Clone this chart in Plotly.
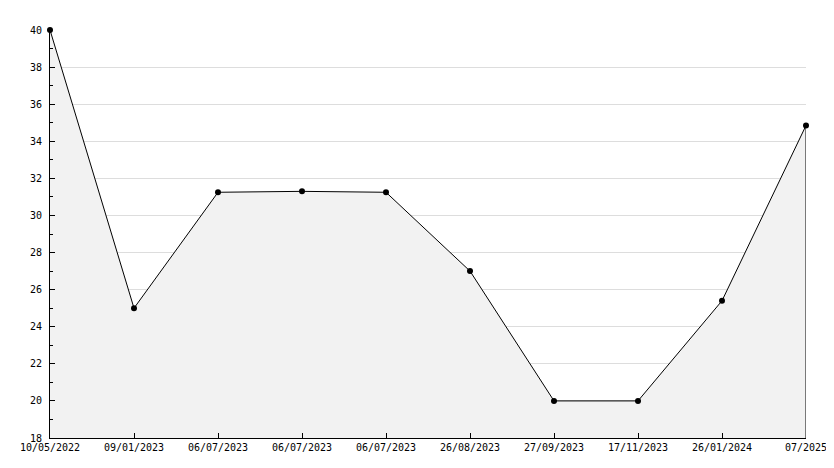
import plotly.graph_objects as go

dates = ["10/05/2022", "09/01/2023", "06/07/2023", "06/07/2023", "06/07/2023",
         "26/08/2023", "27/09/2023", "17/11/2023", "26/01/2024", "07/2025"]
values = [40, 25, 31.25, 31.3, 31.25, 27, 20, 20, 25.4, 34.85]
y_min, y_max = 18, 40

idx = list(range(len(dates)))
font = dict(family="DejaVu Sans Mono", size=10, color="black")

fig = go.Figure()
fig.add_trace(go.Scatter(
    x=idx, y=values, mode="lines+markers", fill="tozeroy",
    fillcolor="#f2f2f2", line=dict(color="black", width=1),
    marker=dict(color="black", size=6, symbol="circle"),
    hoverinfo="skip", showlegend=False, cliponaxis=False,
))
# right edge of the filled area
fig.add_trace(go.Scatter(
    x=[idx[-1], idx[-1]], y=[y_min, values[-1]], mode="lines",
    line=dict(color="black", width=1), hoverinfo="skip", showlegend=False,
))

# page body has an 8px margin, so the figure is offset by (8, 8)
fig.update_layout(
    width=822, height=452,
    margin=dict(l=42, r=24, t=22, b=22, autoexpand=False),
    paper_bgcolor="white", plot_bgcolor="white",
    font=font,
    xaxis=dict(
        range=[0, len(dates) - 1], tickvals=idx, ticktext=dates,
        showgrid=False, zeroline=False, showline=True, linecolor="black",
        linewidth=1, ticks="inside", ticklen=5, tickcolor="black",
        tickfont=font, tickangle=0, automargin=False,
        ticklabeloverflow="allow",
    ),
    yaxis=dict(
        range=[y_min, y_max], dtick=2, tick0=0,
        showgrid=True, gridcolor="#dddddd", gridwidth=1, zeroline=False,
        showline=True, linecolor="black", linewidth=1,
        ticks="inside", ticklen=5, tickcolor="black", tickfont=font,
        ticklabelstandoff=5, automargin=False,
        minor=dict(dtick=1, ticks="inside", ticklen=3, tickcolor="black", showgrid=False),
    ),
)

fig.write_html("out.html")
